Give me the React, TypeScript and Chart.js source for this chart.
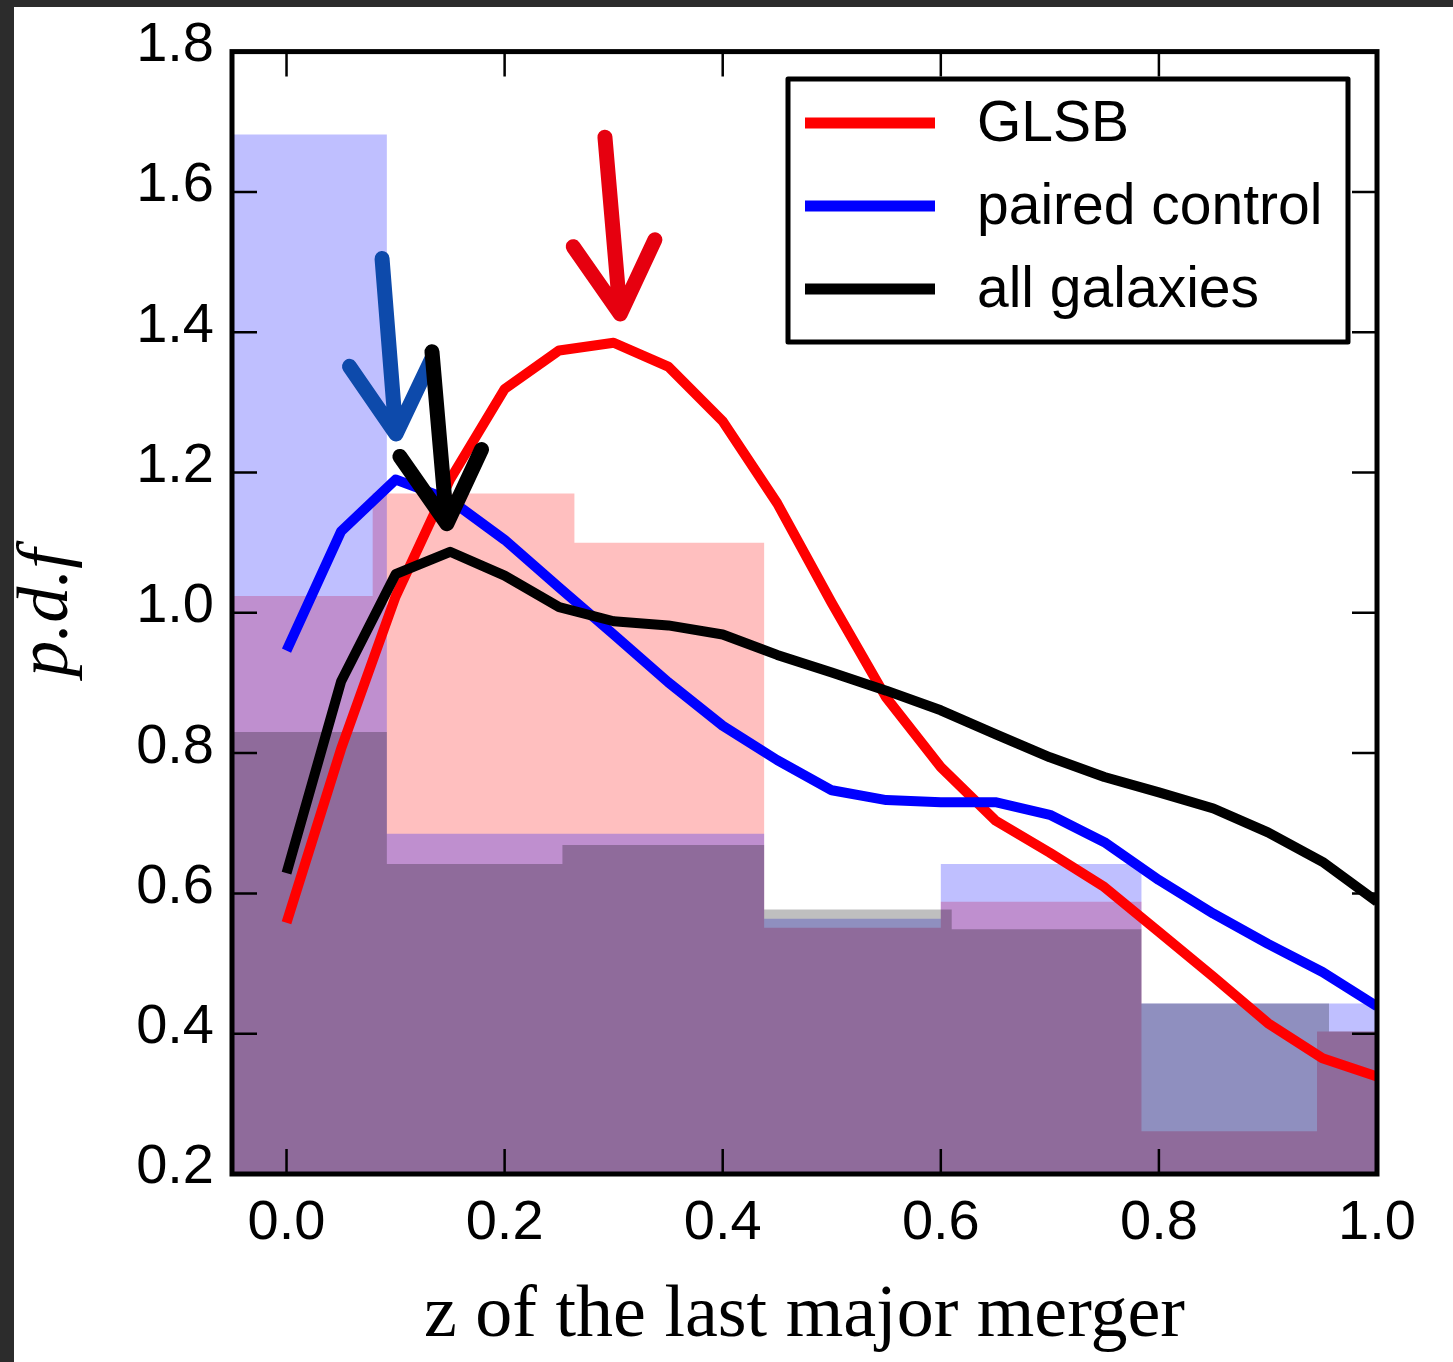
import React, { useEffect, useRef } from "react";
import { Chart, registerables } from "chart.js";

Chart.register(...registerables);

// ---------- data ----------
const lineZ = [0, 0.05, 0.1, 0.15, 0.2, 0.25, 0.3, 0.35, 0.4, 0.45, 0.5, 0.55, 0.6, 0.65, 0.7, 0.75, 0.8, 0.85, 0.9, 0.95, 1.0];
const glsbLine = [0.558, 0.806, 1.023, 1.19, 1.319, 1.374, 1.385, 1.351, 1.273, 1.156, 1.014, 0.879, 0.78, 0.704, 0.658, 0.609, 0.545, 0.481, 0.415, 0.365, 0.339];
const pairedLine = [0.946, 1.116, 1.19, 1.161, 1.104, 1.036, 0.969, 0.901, 0.839, 0.79, 0.747, 0.733, 0.73, 0.73, 0.712, 0.673, 0.619, 0.571, 0.528, 0.488, 0.439];
const allLine = [0.629, 0.902, 1.055, 1.087, 1.053, 1.008, 0.988, 0.982, 0.969, 0.94, 0.915, 0.889, 0.861, 0.827, 0.794, 0.766, 0.744, 0.721, 0.687, 0.645, 0.588];

const glsbHistEdges = [-0.05, 0.079, 0.264, 0.438, 0.6, 0.784, 0.945, 1.0];
const glsbHistHeights = [1.024, 1.17, 1.1, 0.551, 0.588, 0.261, 0.403];
const pairedHistEdges = [-0.05, 0.092, 0.438, 0.6, 0.784, 1.0];
const pairedHistHeights = [1.682, 0.685, 0.564, 0.642, 0.443];
const allHistEdges = [-0.05, 0.092, 0.253, 0.438, 0.61, 0.784, 0.956, 1.0];
const allHistHeights = [0.83, 0.642, 0.669, 0.577, 0.549, 0.443, 0.403];

const seriesLabels = ["GLSB", "paired control", "all galaxies"];
const xTickValues = [0, 0.2, 0.4, 0.6, 0.8, 1.0];
const yTickValues = [0.2, 0.4, 0.6, 0.8, 1.0, 1.2, 1.4, 1.6, 1.8];

// hand-drawn arrows (tail -> tip), data coordinates
const arrowColors = ["#e6000f", "#0d4aab", "#000000"];
const arrowTailX = [0.292, 0.0876, 0.1334];
const arrowTailY = [1.678, 1.505, 1.372];
const arrowTipX = [0.306, 0.1004, 0.147];
const arrowTipY = [1.426, 1.255, 1.127];

// ---------- helpers ----------
function histPoints(edges: number[], heights: number[]) {
  return edges.map((e, i) => ({ x: e, y: heights[Math.min(i, heights.length - 1)] }));
}
function linePoints(ys: number[]) {
  return lineZ.map((z, i) => ({ x: z, y: ys[i] }));
}

const decorations = {
  id: "decorations",
  beforeDraw(chart: any) {
    const { ctx, width, height } = chart;
    ctx.save();
    ctx.fillStyle = "#2c2c2c";
    ctx.fillRect(0, 0, width, height);
    ctx.fillStyle = "#ffffff";
    ctx.fillRect(14, 7, width - 14, height - 7);
    ctx.restore();
  },
  afterDatasetsDraw(chart: any) {
    const { ctx, chartArea, scales } = chart;
    const { left, right, top, bottom } = chartArea;
    const xs = scales.x;
    const ys = scales.y;
    ctx.save();
    // inward ticks
    ctx.strokeStyle = "#000";
    ctx.lineWidth = 2.5;
    ctx.beginPath();
    xTickValues.forEach((v) => {
      const px = xs.getPixelForValue(v);
      ctx.moveTo(px, bottom);
      ctx.lineTo(px, bottom - 25);
      ctx.moveTo(px, top);
      ctx.lineTo(px, top + 25);
    });
    yTickValues.forEach((v) => {
      const py = ys.getPixelForValue(v);
      ctx.moveTo(left, py);
      ctx.lineTo(left + 25, py);
      ctx.moveTo(right, py);
      ctx.lineTo(right - 25, py);
    });
    ctx.stroke();
    // frame
    ctx.lineWidth = 5;
    ctx.strokeRect(left, top, right - left, bottom - top);

    // arrows
    ctx.lineCap = "round";
    ctx.lineJoin = "round";
    arrowColors.forEach((c, i) => {
      const tx = xs.getPixelForValue(arrowTailX[i]);
      const ty = ys.getPixelForValue(arrowTailY[i]);
      const hx = xs.getPixelForValue(arrowTipX[i]);
      const hy = ys.getPixelForValue(arrowTipY[i]);
      const len = Math.hypot(tx - hx, ty - hy);
      const ux = (tx - hx) / len;
      const uy = (ty - hy) / len;
      const ang = (30 * Math.PI) / 180;
      const armLen = 82;
      ctx.strokeStyle = c;
      ctx.lineWidth = 15;
      ctx.beginPath();
      ctx.moveTo(tx, ty);
      ctx.lineTo(hx, hy);
      [ang, -ang].forEach((a) => {
        const rx = ux * Math.cos(a) - uy * Math.sin(a);
        const ry = ux * Math.sin(a) + uy * Math.cos(a);
        ctx.moveTo(hx + rx * armLen, hy + ry * armLen);
        ctx.lineTo(hx, hy);
      });
      ctx.stroke();
    });

    // legend
    const lx = 788, ly = 79, lw = 560, lh = 263;
    ctx.lineCap = "butt";
    ctx.fillStyle = "#fff";
    ctx.fillRect(lx, ly, lw, lh);
    ctx.strokeStyle = "#000";
    ctx.lineWidth = 5;
    ctx.strokeRect(lx, ly, lw, lh);
    const lineSets = chart.data.datasets.filter((d: any) => d.fill === false);
    ctx.font = "57px 'Liberation Sans', Arial, sans-serif";
    ctx.textBaseline = "middle";
    ctx.textAlign = "left";
    lineSets.forEach((d: any, i: number) => {
      const rowY = 123 + i * 83;
      ctx.strokeStyle = d.borderColor;
      ctx.lineWidth = 11;
      ctx.beginPath();
      ctx.moveTo(805, rowY);
      ctx.lineTo(935, rowY);
      ctx.stroke();
      ctx.fillStyle = "#000";
      ctx.fillText(d.label, 977, rowY + 2);
    });
    ctx.restore();
  },
};

export default function App() {
  const canvasRef = useRef<HTMLCanvasElement | null>(null);

  useEffect(() => {
    document.body.style.margin = "0";
    document.body.style.overflow = "hidden";
    const canvas = canvasRef.current;
    if (!canvas) return;

    const histCommon = {
      type: "line" as const,
      stepped: true,
      fill: "start",
      borderWidth: 0,
      borderColor: "rgba(0,0,0,0)",
      pointRadius: 0,
    };
    const lineCommon = {
      type: "line" as const,
      fill: false,
      borderWidth: 10,
      pointRadius: 0,
      tension: 0,
      borderJoinStyle: "round" as const,
      borderCapStyle: "butt" as const,
    };

    const chart = new Chart(canvas, {
      type: "line",
      data: {
        datasets: [
          { ...histCommon, label: "GLSB hist", data: histPoints(glsbHistEdges, glsbHistHeights), backgroundColor: "rgba(255,0,0,0.25)", order: 5 },
          { ...histCommon, label: "paired hist", data: histPoints(pairedHistEdges, pairedHistHeights), backgroundColor: "rgba(0,0,255,0.25)", order: 4 },
          { ...histCommon, label: "all hist", data: histPoints(allHistEdges, allHistHeights), backgroundColor: "rgba(0,0,0,0.25)", order: 3 },
          { ...lineCommon, label: seriesLabels[0], data: linePoints(glsbLine), borderColor: "#ff0000", order: 2 },
          { ...lineCommon, label: seriesLabels[1], data: linePoints(pairedLine), borderColor: "#0000ff", order: 1 },
          { ...lineCommon, label: seriesLabels[2], data: linePoints(allLine), borderColor: "#000000", order: 0 },
        ] as any,
      },
      options: {
        animation: false,
        responsive: true,
        maintainAspectRatio: false,
        devicePixelRatio: 1,
        layout: { padding: { left: 0, top: 49, right: 76, bottom: 0 } },
        plugins: { legend: { display: false }, tooltip: { enabled: false }, title: { display: false } },
        scales: {
          x: {
            type: "linear",
            min: -0.05,
            max: 1.0,
            grid: { display: false, drawTicks: false },
            border: { display: false },
            afterBuildTicks: (s: any) => {
              s.ticks = xTickValues.map((v) => ({ value: v }));
            },
            afterFit: (s: any) => {
              s.height = 188;
            },
            ticks: {
              color: "#000",
              padding: 16,
              font: { family: "'Liberation Sans', Arial, sans-serif", size: 56 },
              callback: (v: any) => Number(v).toFixed(1),
              maxRotation: 0,
            },
            title: {
              display: true,
              text: "z of the last major merger",
              color: "#000",
              font: { family: "'Liberation Serif', 'Times New Roman', serif", size: 74, lineHeight: 1.2 },
              padding: { top: 0, bottom: 1 },
            },
          },
          y: {
            type: "linear",
            min: 0.2,
            max: 1.8,
            grid: { display: false, drawTicks: false },
            border: { display: false },
            afterBuildTicks: (s: any) => {
              s.ticks = yTickValues.map((v) => ({ value: v }));
            },
            afterFit: (s: any) => {
              s.width = 232;
            },
            ticks: {
              color: "#000",
              padding: 18,
              labelOffset: -6,
              font: { family: "'Liberation Sans', Arial, sans-serif", size: 56 },
              callback: (v: any) => Number(v).toFixed(1),
            },
            title: {
              display: true,
              text: "p.d.f",
              color: "#000",
              font: { family: "'Liberation Serif', 'Times New Roman', serif", size: 72, style: "italic", lineHeight: 1 },
              padding: { top: 12, bottom: 0 },
            },
          },
        },
      },
      plugins: [decorations],
    });

    return () => {
      chart.destroy();
    };
  }, []);

  return (
    <div style={{ position: "fixed", left: 0, top: 0, width: "1453px", height: "1362px" }}>
      <canvas ref={canvasRef} />
    </div>
  );
}
